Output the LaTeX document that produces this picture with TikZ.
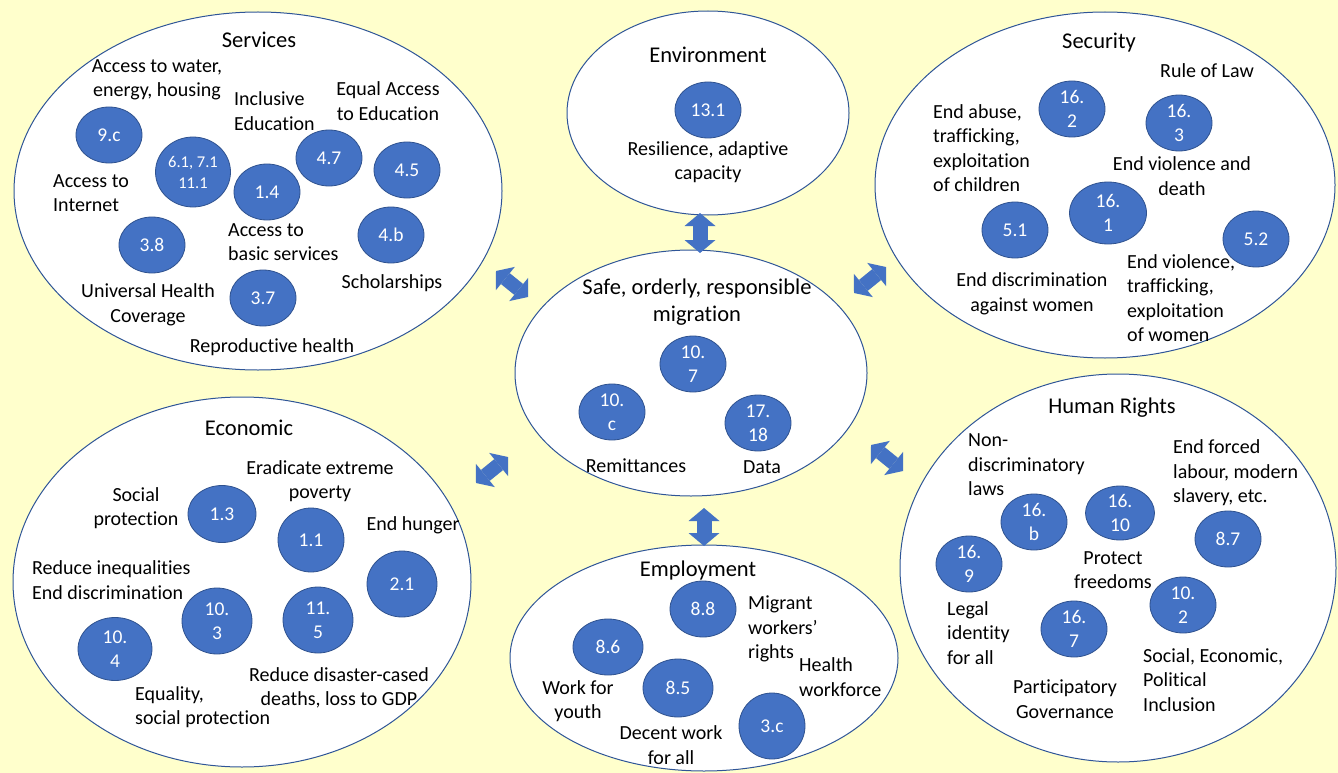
\documentclass[tikz,border=0pt]{standalone}
\usepackage{fontspec}
\setmainfont[Ligatures=NoCommon]{Carlito}
\usetikzlibrary{shapes.geometric,arrows.meta}
\definecolor{paper}{RGB}{255,255,204}
\definecolor{sdgblue}{RGB}{68,114,196}
\definecolor{sdgedge}{RGB}{47,82,143}
\definecolor{rimblue}{RGB}{47,85,151}

\begin{document}
\begin{tikzpicture}[x=1pt, y=-1pt,
        group/.style={ellipse, draw=rimblue, line width=1pt, fill=white, inner sep=0pt},
        goal/.style={ellipse, draw=sdgedge, line width=0.8pt, fill=sdgblue, text=white, inner sep=0pt,
            minimum width=66pt, minimum height=56pt, align=center, font=\fontsize{19.5}{24}\selectfont},
        lbl/.style={align=center, inner sep=0pt, font=\fontsize{20}{24.5}\selectfont},
        lbll/.style={lbl, align=left, anchor=west},
        head/.style={lbl, font=\fontsize{22.5}{27}\selectfont},
        link/.style={draw=sdgblue, line width=15pt,
            {Triangle[width=31pt,length=13pt,line width=0pt]}-{Triangle[width=31pt,length=13pt,line width=0pt]}},
        slink/.style={draw=sdgblue, line width=14pt,
            {Triangle[width=30pt,length=12pt,line width=0pt]}-{Triangle[width=30pt,length=12pt,line width=0pt]}}]
        \fill[paper] (0,0) rectangle (1338,773);
        \useasboundingbox (0,0) rectangle (1338,773);

        \node[group, minimum width=488pt, minimum height=358pt] (serv) at (258,191) {};
        \node[group, minimum width=282pt, minimum height=204pt] (env) at (708,113) {};
        \node[group, minimum width=352pt, minimum height=246pt] (mig) at (691,373) {};
        \node[group, minimum width=460pt, minimum height=346pt] (sec) at (1105,185) {};
        \node[group, minimum width=458pt, minimum height=370pt] (econ) at (242,582) {};
        \node[group, minimum width=388pt, minimum height=226pt] (empl) at (704,658) {};
        \node[group, minimum width=436pt, minimum height=388pt] (hr) at (1118,568) {};

        \coordinate (envA) at (700,213);
        \coordinate (envB) at (700,253);
        \coordinate (emplA) at (704,508);
        \coordinate (emplB) at (704,546);
        \coordinate (servA) at (496,271);
        \coordinate (servB) at (528,297);
        \coordinate (secA) at (854,293);
        \coordinate (secB) at (886,267);
        \coordinate (econA) at (476,483);
        \coordinate (econB) at (508,457);
        \coordinate (hrA) at (871,445);
        \coordinate (hrB) at (903,471);
        \draw[link] (envA) -- (envB);
        \draw[link] (emplA) -- (emplB);
        \draw[slink] (servA) -- (servB);
        \draw[slink] (secA) -- (secB);
        \draw[slink] (econA) -- (econB);
        \draw[slink] (hrA) -- (hrB);

        \node[head] (servT) at (259,40) {Services};
        \node[lbl] (servWater) at (157,80) {Access to water,\\energy, housing};
        \node[lbll] (servIncl) at (234,111) {Inclusive\\Education};
        \node[lbl] (servEqual) at (388,101) {Equal Access\\to Education};
        \node[lbll] (servNet) at (53,193) {Access to\\Internet};
        \node[lbll] (servBasic) at (228,242) {Access to\\basic services};
        \node[lbl] (servSchol) at (392,283) {Scholarships};
        \node[lbl] (servUHC) at (148,305) {Universal Health\\Coverage};
        \node[lbl] (servRepro) at (272,347) {Reproductive health};
        \node[goal] (g9c) at (109,135) {9.c};
        \node[goal, minimum width=75pt, minimum height=70pt, font=\fontsize{16.5}{21}\selectfont] (g61) at (193,172) {6.1, 7.1\\11.1};
        \node[goal] (g14) at (267,192) {1.4};
        \node[goal] (g47) at (329,158) {4.7};
        \node[goal] (g45) at (407,170) {4.5};
        \node[goal] (g4b) at (391,235) {4.b};
        \node[goal] (g38) at (152,245) {3.8};
        \node[goal] (g37) at (263,298) {3.7};

        \node[head] (envT) at (708,55) {Environment};
        \node[goal] (g131) at (708,110) {13.1};
        \node[lbl] (envRes) at (708,162) {Resilience, adaptive\\capacity};

        \node[head] (migT) at (697,302) {Safe, orderly, responsible\\migration};
        \node[goal] (g107) at (693,364) {10.\\7};
        \node[goal] (g10c) at (612,412) {10.\\c};
        \node[goal] (g1718) at (758,423) {17.\\18};
        \node[lbl] (migRem) at (636,466) {Remittances};
        \node[lbl] (migData) at (762,467) {Data};

        \node[head] (secT) at (1099,43) {Security};
        \node[lbl] (secLaw) at (1207,71) {Rule of Law};
        \node[lbll] (secChild) at (933,148) {End abuse,\\trafficking,\\exploitation\\of children};
        \node[lbl] (secDeath) at (1182,176) {End violence and\\death};
        \node[lbl] (secDisc) at (1032,294) {End discrimination\\against women};
        \node[lbll] (secWomen) at (1127,298) {End violence,\\trafficking,\\exploitation\\of women};
        \node[goal] (g162) at (1072,109) {16.\\2};
        \node[goal] (g163) at (1179,123) {16.\\3};
        \node[goal, minimum width=77pt, minimum height=62pt] (g161) at (1108,213) {16.\\1};
        \node[goal] (g51) at (1015,230) {5.1};
        \node[goal] (g52) at (1256,239) {5.2};

        \node[head] (econT) at (249,428) {Economic};
        \node[lbl] (econPov) at (320,481) {Eradicate extreme\\poverty};
        \node[lbl] (econSoc) at (136,508) {Social\\protection};
        \node[lbl] (econHung) at (413,525) {End hunger};
        \node[lbll] (econIneq) at (32,580) {Reduce inequalities\\End discrimination};
        \node[lbl] (econDis) at (339,688) {Reduce disaster-cased\\deaths, loss to GDP};
        \node[lbll] (econEq) at (135,707) {Equality,\\social protection};
        \node[goal, minimum width=68pt, minimum height=57pt] (g13) at (222,514) {1.3};
        \node[goal, minimum height=64pt] (g11) at (311,540) {1.1};
        \node[goal, minimum width=70pt, minimum height=66pt] (g21) at (402,584) {2.1};
        \node[goal, minimum width=70pt, minimum height=66pt] (g103) at (217,621) {10.\\3};
        \node[goal, minimum width=70pt, minimum height=66pt] (g115) at (318,620) {11.\\5};
        \node[goal, minimum width=74pt, minimum height=63pt] (g104) at (115,649) {10.\\4};

        \node[head] (emplT) at (698,570) {Employment};
        \node[lbll] (emplMig) at (748,629) {Migrant\\workers'\\rights};
        \node[lbll] (emplHealth) at (799,677) {Health\\workforce};
        \node[lbl] (emplYouth) at (578,701) {Work for\\youth};
        \node[lbl] (emplDecent) at (671,745) {Decent work\\for all};
        \node[goal] (g88) at (703,609) {8.8};
        \node[goal, minimum width=70pt] (g86) at (608,647) {8.6};
        \node[goal, minimum width=70pt, minimum height=58pt] (g85) at (678,688) {8.5};
        \node[goal, minimum height=66pt] (g3c) at (772,726) {3.c};

        \node[head] (hrT) at (1112,408) {Human Rights};
        \node[lbll] (hrLaws) at (968,465) {Non-\\discriminatory\\laws};
        \node[lbll] (hrForced) at (1173,473) {End forced\\labour, modern\\slavery, etc.};
        \node[lbl] (hrFree) at (1113,570) {Protect\\freedoms};
        \node[lbll] (hrLegal) at (947,633) {Legal\\identity\\for all};
        \node[lbll] (hrIncl) at (1143,680) {Social, Economic,\\Political\\Inclusion};
        \node[lbl] (hrPart) at (1065,699) {Participatory\\Governance};
        \node[goal] (g16b) at (1034,522) {16.\\b};
        \node[goal, minimum width=69pt, minimum height=54pt] (g1610) at (1120,513) {16.\\10};
        \node[goal] (g87) at (1228,539) {8.7};
        \node[goal] (g169) at (969,564) {16.\\9};
        \node[goal] (g102) at (1183,605) {10.\\2};
        \node[goal] (g167) at (1074,629) {16.\\7};
    \end{tikzpicture}
\end{document}
